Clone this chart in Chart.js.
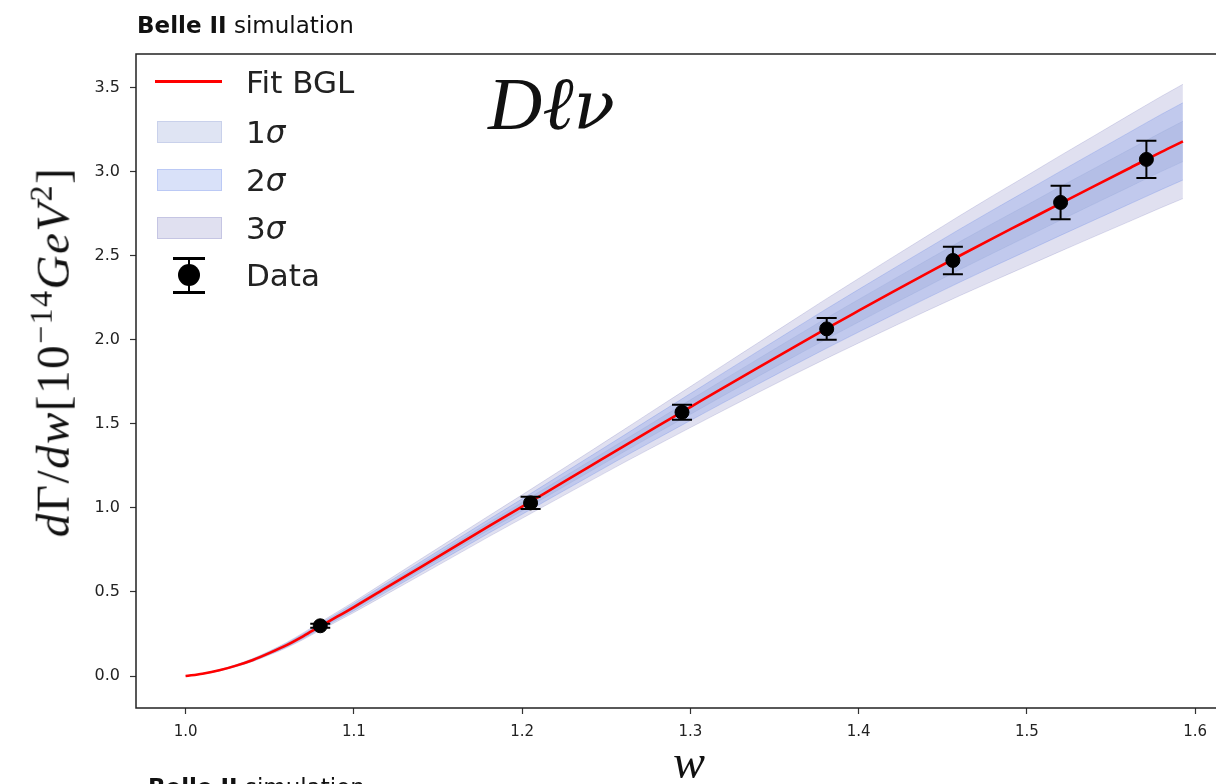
<!DOCTYPE html>
<html>
<head>
<meta charset="utf-8">
<script src="https://cdn.jsdelivr.net/npm/chart.js@4.4.1/dist/chart.umd.min.js"></script>
<style>
  html, body { margin: 0; padding: 0; background: #fff; overflow: hidden; width: 1216px; height: 784px; }
  #wrap { position: relative; width: 1216px; height: 784px; overflow: hidden; }
  #cv { position: absolute; left: 0; top: 0; }
  .txt { position: absolute; white-space: nowrap; color: #111; }
  .hdr { font-family: "DejaVu Sans", sans-serif; font-size: 23px; }
  .hdr b { font-weight: bold; }
  .math { font-family: "Liberation Serif", "DejaVu Serif", serif; }
  .legrow { position: absolute; left: 150px; height: 40px; display: flex; align-items: center; }
  .legsym { position: relative; width: 80px; height: 40px; }
  .leglab { font-family: "DejaVu Sans", sans-serif; font-size: 31px; color: #222; margin-left: 16px; }
</style>
</head>
<body>
<div id="wrap">
  <canvas id="cv" width="1250" height="784"></canvas>

  <div class="txt hdr" style="left:137px; top:12px;"><b>Belle II</b> simulation</div>
  <div class="txt hdr" style="left:148px; top:774px;"><b>Belle II</b> simulation</div>

  <div class="txt math" style="left:488px; top:61px; font-size:75px; font-style:italic;">D&#8467;<span style="font-family:'DejaVu Serif',serif; font-size:68px;">&#957;</span></div>

  <div class="txt math" id="ylab" style="left:51px; top:352px; font-size:47px; letter-spacing:1.5px; transform: translate(-50%,-50%) rotate(-90deg);">
    <i>d</i>&#915;/<i>dw</i>[10<sup style="font-size:32px;">&#8722;14</sup><i>GeV</i><sup style="font-size:32px;">2</sup>]
  </div>
  <div class="txt math" style="left:673px; top:734px; font-size:48px; font-style:italic;">w</div>

  <!-- legend -->
  <div class="legrow" style="top:62px;">
    <div class="legsym"><div style="position:absolute; left:5px; top:18px; width:67px; height:3px; background:#ff0000;"></div></div>
    <div class="leglab">Fit BGL</div>
  </div>
  <div class="legrow" style="top:112px;">
    <div class="legsym"><div style="position:absolute; left:7px; top:9px; width:65px; height:22px; background:rgba(150,165,215,0.30); border:1px solid rgba(150,165,215,0.3); box-sizing:border-box;"></div></div>
    <div class="leglab">1<i>&#963;</i></div>
  </div>
  <div class="legrow" style="top:160px;">
    <div class="legsym"><div style="position:absolute; left:7px; top:9px; width:65px; height:22px; background:rgba(65,105,225,0.20); border:1px solid rgba(65,105,225,0.2); box-sizing:border-box;"></div></div>
    <div class="leglab">2<i>&#963;</i></div>
  </div>
  <div class="legrow" style="top:208px;">
    <div class="legsym"><div style="position:absolute; left:7px; top:9px; width:65px; height:22px; background:rgba(0,0,128,0.12); border:1px solid rgba(0,0,128,0.12); box-sizing:border-box;"></div></div>
    <div class="leglab">3<i>&#963;</i></div>
  </div>
  <div class="legrow" style="top:255px;">
    <div class="legsym">
      <div style="position:absolute; left:38px; top:3px; width:2px; height:35px; background:#000;"></div>
      <div style="position:absolute; left:23px; top:2px; width:32px; height:3px; background:#000;"></div>
      <div style="position:absolute; left:23px; top:36px; width:32px; height:3px; background:#000;"></div>
      <div style="position:absolute; left:28px; top:9px; width:22px; height:22px; border-radius:50%; background:#000;"></div>
    </div>
    <div class="leglab">Data</div>
  </div>
</div>

<script>
// recoil variable w and fitted BGL differential rate dGamma/dw [1e-14 GeV^2]
const wFit = [1.00, 1.01, 1.02, 1.03, 1.04, 1.05, 1.06, 1.07, 1.08, 1.09,
              1.10, 1.12, 1.14, 1.16, 1.18, 1.20, 1.22, 1.24, 1.26, 1.28,
              1.30, 1.32, 1.34, 1.36, 1.38, 1.40, 1.42, 1.44, 1.46, 1.48,
              1.50, 1.52, 1.54, 1.56, 1.58, 1.5927];
const fitBGL = [0.000, 0.014, 0.034, 0.062, 0.096, 0.138, 0.184, 0.238, 0.296, 0.353,
                0.410, 0.530, 0.650, 0.770, 0.890, 1.008, 1.127, 1.246, 1.365, 1.483,
                1.600, 1.717, 1.833, 1.948, 2.062, 2.173, 2.283, 2.392, 2.500, 2.605,
                2.708, 2.812, 2.914, 3.016, 3.118, 3.180];
// half widths of the uncertainty bands around the fit
const band1 = [0.000, 0.001, 0.001, 0.002, 0.003, 0.004, 0.006, 0.007, 0.008, 0.010,
               0.011, 0.014, 0.017, 0.019, 0.022, 0.025, 0.028, 0.031, 0.034, 0.038,
               0.043, 0.047, 0.052, 0.057, 0.062, 0.067, 0.072, 0.078, 0.083, 0.089,
               0.094, 0.100, 0.105, 0.111, 0.116, 0.120];
const band2 = [0.000, 0.001, 0.003, 0.004, 0.006, 0.008, 0.011, 0.013, 0.016, 0.018,
               0.021, 0.026, 0.031, 0.036, 0.041, 0.046, 0.052, 0.058, 0.064, 0.072,
               0.080, 0.089, 0.098, 0.107, 0.117, 0.127, 0.137, 0.147, 0.158, 0.169,
               0.180, 0.191, 0.202, 0.213, 0.224, 0.230];
const band3 = [0.000, 0.002, 0.004, 0.006, 0.009, 0.012, 0.016, 0.020, 0.024, 0.028,
               0.032, 0.040, 0.048, 0.055, 0.062, 0.070, 0.079, 0.088, 0.098, 0.110,
               0.122, 0.135, 0.148, 0.162, 0.177, 0.192, 0.207, 0.222, 0.238, 0.254,
               0.269, 0.285, 0.300, 0.316, 0.331, 0.340];

// binned measurement
const wData = [1.080, 1.205, 1.295, 1.381, 1.456, 1.520, 1.571];
const rateData = [0.299, 1.030, 1.569, 2.065, 2.472, 2.817, 3.073];
const rateErr = [0.012, 0.037, 0.044, 0.065, 0.082, 0.100, 0.111];

const xTicks = [1.0, 1.1, 1.2, 1.3, 1.4, 1.5, 1.6];
const yTicks = [0.0, 0.5, 1.0, 1.5, 2.0, 2.5, 3.0, 3.5];

const pts = (ys) => wFit.map((w, i) => ({ x: w, y: ys[i] }));
const upper = (b) => pts(fitBGL.map((v, i) => v + b[i]));
const lower = (b) => pts(fitBGL.map((v, i) => v - b[i]));

const c3 = 'rgba(0,0,128,0.12)';
const c2 = 'rgba(65,105,225,0.20)';
const c1 = 'rgba(150,165,215,0.30)';

function bandPair(b, col, ord) {
  const common = { borderColor: col, borderWidth: 1, backgroundColor: col, pointRadius: 0,
                   cubicInterpolationMode: 'monotone', order: ord };
  return [
    { type: 'line', data: upper(b), fill: '+1', ...common },
    { type: 'line', data: lower(b), fill: false, ...common }
  ];
}

// vertical error bars with caps, drawn just before the data markers
const errorBars = {
  id: 'errorBars',
  beforeDatasetDraw(chart, args) {
    const ds = chart.data.datasets[args.index];
    if (!ds.errors) return;
    const { ctx, scales: { x, y } } = chart;
    ctx.save();
    ctx.strokeStyle = '#000';
    ctx.lineWidth = 2;
    ds.data.forEach((p, i) => {
      const px = x.getPixelForValue(p.x);
      const top = y.getPixelForValue(p.y + ds.errors[i]);
      const bot = y.getPixelForValue(p.y - ds.errors[i]);
      ctx.beginPath();
      ctx.moveTo(px, top); ctx.lineTo(px, bot);
      ctx.moveTo(px - 10, top); ctx.lineTo(px + 10, top);
      ctx.moveTo(px - 10, bot); ctx.lineTo(px + 10, bot);
      ctx.stroke();
    });
    ctx.restore();
  }
};

// axes frame
const frame = {
  id: 'frame',
  afterDraw(chart) {
    const { ctx, chartArea: a } = chart;
    ctx.save();
    ctx.strokeStyle = '#222';
    ctx.lineWidth = 1.5;
    ctx.strokeRect(a.left, a.top, a.right - a.left, a.bottom - a.top);
    ctx.restore();
  }
};

new Chart(document.getElementById('cv'), {
  type: 'scatter',
  data: {
    datasets: [
      ...bandPair(band3, c3, 10),
      ...bandPair(band2, c2, 9),
      ...bandPair(band1, c1, 8),
      { type: 'line', data: pts(fitBGL), borderColor: '#ff0000', borderWidth: 2.6,
        fill: false, pointRadius: 0, cubicInterpolationMode: 'monotone', order: 5 },
      { type: 'scatter', data: wData.map((w, i) => ({ x: w, y: rateData[i] })),
        errors: rateErr, backgroundColor: '#000', borderColor: '#000',
        pointRadius: 7, pointHoverRadius: 7, order: 1 }
    ]
  },
  options: {
    responsive: false,
    animation: false,
    devicePixelRatio: 1,
    events: [],
    layout: { padding: { left: 0, top: 54, right: 22, bottom: 0 } },
    plugins: { legend: { display: false }, tooltip: { enabled: false } },
    scales: {
      x: {
        type: 'linear', min: 0.9705, max: 1.6195,
        afterBuildTicks: (s) => { s.ticks = xTicks.map(v => ({ value: v })); },
        afterFit: (s) => { s.height = 76; },
        border: { display: false },
        grid: { drawOnChartArea: false, drawTicks: true, tickLength: 6, color: '#333', tickWidth: 1.2 },
        ticks: { color: '#222', padding: 9, font: { family: 'DejaVu Sans', size: 15 },
                 maxRotation: 0, callback: (v) => Number(v).toFixed(1) }
      },
      y: {
        type: 'linear', min: -0.19, max: 3.70,
        afterBuildTicks: (s) => { s.ticks = yTicks.map(v => ({ value: v })); },
        afterFit: (s) => { s.width = 136; },
        border: { display: false },
        grid: { drawOnChartArea: false, drawTicks: true, tickLength: 6, color: '#333', tickWidth: 1.2 },
        ticks: { color: '#222', padding: 10, font: { family: 'DejaVu Sans', size: 16 },
                 callback: (v) => Number(v).toFixed(1) }
      }
    }
  },
  plugins: [errorBars, frame]
});
</script>
</body>
</html>
